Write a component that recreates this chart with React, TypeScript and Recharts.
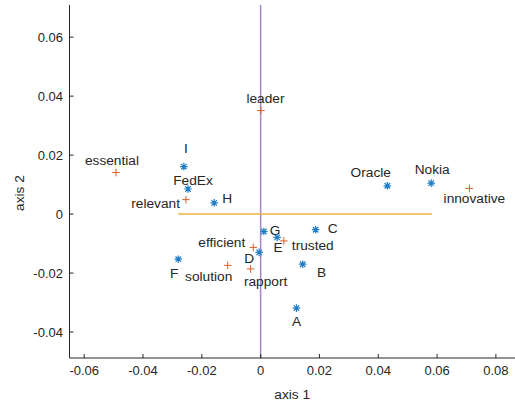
import React from "react";
import {
  ScatterChart,
  Scatter,
  XAxis,
  YAxis,
  ReferenceLine,
} from "recharts";

// companies / codes (blue asterisks)
const brandNames = ["I", "FedEx", "H", "G", "E", "C", "D", "F", "B", "A", "Oracle", "Nokia"];
const brandX = [-0.0261, -0.0247, -0.0158, 0.0011, 0.0056, 0.0187, -0.0005, -0.028, 0.0143, 0.0122, 0.0431, 0.058];
const brandY = [0.0161, 0.0085, 0.0038, -0.0059, -0.0079, -0.0053, -0.013, -0.0153, -0.017, -0.0319, 0.0096, 0.0105];

// attributes (orange plus)
const attrNames = ["essential", "relevant", "leader", "trusted", "efficient", "solution", "rapport", "innovative"];
const attrX = [-0.0492, -0.0254, 0.0001, 0.0079, -0.0025, -0.0112, -0.0034, 0.071];
const attrY = [0.0141, 0.0049, 0.0351, -0.0091, -0.0113, -0.0174, -0.0186, 0.0087];

// axis guides
const hLineX = [-0.028, 0.0583];
const xTicks = [-0.06, -0.04, -0.02, 0, 0.02, 0.04, 0.06, 0.08];
const yTicks = [-0.04, -0.02, 0, 0.02, 0.04, 0.06];

// label placement (pixels relative to marker)
const labelPos: Record<string, { dx: number; dy: number; anchor: string }> = {
  essential: { dx: -4, dy: -12.5, anchor: "middle" },
  I: { dx: 2, dy: -18, anchor: "middle" },
  FedEx: { dx: 5, dy: -9, anchor: "middle" },
  relevant: { dx: -6, dy: 4.3, anchor: "end" },
  H: { dx: 8, dy: -4.3, anchor: "start" },
  G: { dx: 6, dy: -1.4, anchor: "start" },
  E: { dx: 1, dy: 10.6, anchor: "middle" },
  trusted: { dx: 8, dy: 5, anchor: "start" },
  C: { dx: 12, dy: -1.7, anchor: "start" },
  efficient: { dx: -8, dy: -5, anchor: "end" },
  D: { dx: -10, dy: 6, anchor: "middle" },
  F: { dx: -4, dy: 14.4, anchor: "middle" },
  solution: { dx: -19, dy: 11, anchor: "middle" },
  rapport: { dx: 15, dy: 13, anchor: "middle" },
  B: { dx: 19, dy: 8.4, anchor: "middle" },
  A: { dx: 0, dy: 13.4, anchor: "middle" },
  Oracle: { dx: -16.6, dy: -13.3, anchor: "middle" },
  Nokia: { dx: 1, dy: -14, anchor: "middle" },
  innovative: { dx: 5, dy: 9.6, anchor: "middle" },
  leader: { dx: 4.5, dy: -12.3, anchor: "middle" },
};

const brandData = brandNames.map((name, i) => ({ name, x: brandX[i], y: brandY[i] }));
const attrData = attrNames.map((name, i) => ({ name, x: attrX[i], y: attrY[i] }));

const FONT = "'Liberation Sans', Arial, sans-serif";
const BLUE = "#1f7dc6";
const ORANGE = "#d9622a";
const INK = "#262626";

const Label = ({ cx, cy, name }: any) => {
  const p = labelPos[name] || { dx: 0, dy: -12, anchor: "middle" };
  return (
    <text
      x={cx + p.dx}
      y={cy + p.dy}
      textAnchor={p.anchor as any}
      dominantBaseline="central"
      fontSize={13.7}
      fontFamily={FONT}
      fill={INK}
    >
      {name}
    </text>
  );
};

const Asterisk = (props: any) => {
  const { cx, cy, payload } = props;
  const r = 3.8;
  const d = r * 0.72;
  return (
    <g>
      <path
        d={`M${cx},${cy - r}L${cx},${cy + r}M${cx - r},${cy}L${cx + r},${cy}M${cx - d},${cy - d}L${cx + d},${cy + d}M${cx - d},${cy + d}L${cx + d},${cy - d}`}
        stroke={BLUE}
        strokeWidth={1.2}
        fill="none"
      />
      <Label cx={cx} cy={cy} name={payload.name} />
    </g>
  );
};

const Plus = (props: any) => {
  const { cx, cy, payload } = props;
  const r = 3.8;
  return (
    <g>
      <path
        d={`M${cx},${cy - r}L${cx},${cy + r}M${cx - r},${cy}L${cx + r},${cy}`}
        stroke={ORANGE}
        strokeWidth={1}
        fill="none"
      />
      <Label cx={cx} cy={cy} name={payload.name} />
    </g>
  );
};

const fmt = (v: number) => (Math.abs(v) < 1e-9 ? "0" : v.toFixed(2));

export default function App() {
  return (
    <div style={{ position: "absolute", left: 0, top: 0, background: "#fff" }}>
      <ScatterChart
        width={515}
        height={402}
        margin={{ top: 5, right: 0, left: 0, bottom: 0 }}
      >
        <XAxis
          type="number"
          dataKey="x"
          domain={[-0.065, 0.0865]}
          ticks={xTicks}
          tickFormatter={fmt}
          allowDataOverflow
          height={44}
          tickSize={-4}
          tickMargin={12}
          axisLine={{ stroke: INK }}
          tickLine={{ stroke: INK }}
          tick={{ fill: INK, fontSize: 13, fontFamily: FONT }}
          label={(props: any) => {
            const vb = props.viewBox;
            return (
              <text
                x={vb.x + vb.width / 2}
                y={vb.y + 36}
                textAnchor="middle"
                dominantBaseline="central"
                fontSize={13.7}
                fontFamily={FONT}
                fill={INK}
              >
                axis 1
              </text>
            );
          }}
        />
        <YAxis
          type="number"
          dataKey="y"
          domain={[-0.0488, 0.0709]}
          ticks={yTicks}
          tickFormatter={fmt}
          allowDataOverflow
          width={69.5}
          tickSize={-4}
          tickMargin={10.5}
          axisLine={{ stroke: INK }}
          tickLine={{ stroke: INK }}
          tick={{ fill: INK, fontSize: 13, fontFamily: FONT }}
          label={() => {
            const x = 19;
            const y = 193;
            return (
              <text
                x={x}
                y={y}
                transform={`rotate(-90, ${x}, ${y})`}
                textAnchor="middle"
                dominantBaseline="central"
                fontSize={13.7}
                fontFamily={FONT}
                fill={INK}
              >
                axis 2
              </text>
            );
          }}
        />
        <ReferenceLine x={0} stroke="#a585c8" strokeWidth={1.5} />
        <ReferenceLine
          segment={[
            { x: hLineX[0], y: 0 },
            { x: hLineX[1], y: 0 },
          ]}
          stroke="#eab540"
          strokeWidth={1.5}
        />
        <Scatter data={brandData} shape={Asterisk} isAnimationActive={false} />
        <Scatter data={attrData} shape={Plus} isAnimationActive={false} />
      </ScatterChart>
    </div>
  );
}
